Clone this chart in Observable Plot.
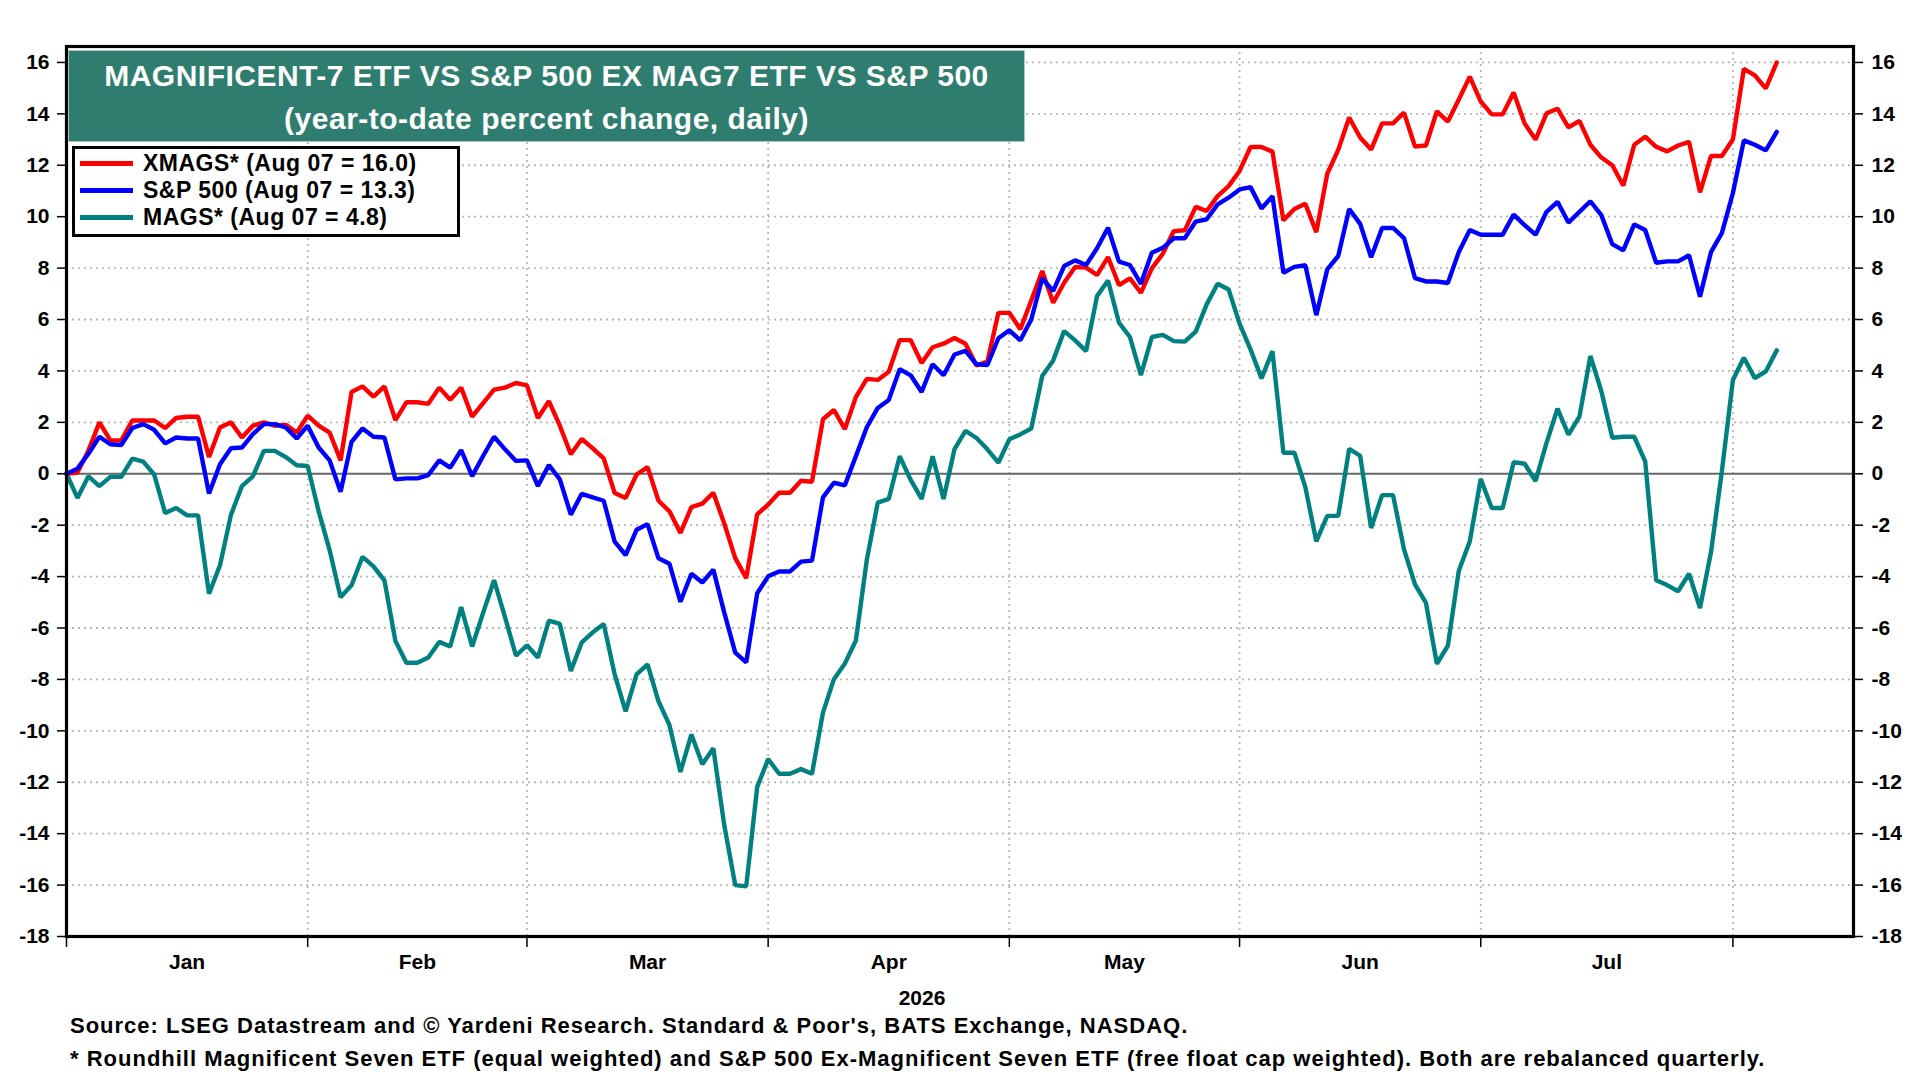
<!DOCTYPE html>
<html>
<head>
<meta charset="utf-8">
<script src="https://cdn.jsdelivr.net/npm/d3@7"></script>
<script src="https://cdn.jsdelivr.net/npm/@observablehq/plot@0.6"></script>
<style>
  html, body { margin: 0; padding: 0; background: #fff; }
  #wrap { position: relative; width: 1920px; height: 1080px; overflow: hidden; font-family: "Liberation Sans", Arial, sans-serif; font-weight: bold; color: #000; }
  #chart svg text { font-weight: bold; font-family: "Liberation Sans", Arial, sans-serif; }
  .title { position: absolute; left: 69px; top: 51px; width: 955px; height: 90px; background: #2e7d6f; color: #fff; font-size: 30px; letter-spacing: 0.5px; line-height: 43px; text-align: center; padding-top: 3px; box-sizing: border-box; outline: 1px solid #a9cbc3; white-space: nowrap; }
  .legend { position: absolute; left: 72px; top: 146px; width: 388px; height: 91px; background: #fff; border: 3px solid #000; box-sizing: border-box; padding-top: 1px; }
  .legend .row { height: 27px; display: flex; align-items: center; font-size: 23px; letter-spacing: 0.5px; white-space: nowrap; }
  .legend .sw { width: 53px; height: 5px; margin-left: 5px; margin-right: 10px; }
  .yearlab { position: absolute; left: 922px; top: 998px; transform: translate(-50%, -50%); font-size: 21px; }
  .src { position: absolute; left: 70px; font-size: 22px; letter-spacing: 1px; white-space: nowrap; transform: translateY(-50%); }
</style>
</head>
<body>
<div id="wrap">
  <div id="chart"></div>
  <div class="title">MAGNIFICENT-7 ETF VS S&amp;P 500 EX MAG7 ETF VS S&amp;P 500<br>(year-to-date percent change, daily)</div>
  <div class="legend" id="legend"></div>
  <div class="yearlab">2026</div>
  <div class="src" style="top:1026px">Source: LSEG Datastream and © Yardeni Research. Standard &amp; Poor's, BATS Exchange, NASDAQ.</div>
  <div class="src" style="top:1059px">* Roundhill Magnificent Seven ETF (equal weighted) and S&amp;P 500 Ex-Magnificent Seven ETF (free float cap weighted). Both are rebalanced quarterly.</div>
</div>
<script>
// Daily (weekday) year-to-date % change, Jan 1 2026 .. Aug 07 2026
const xmags = [
  0, 0.05, 0.9, 2.0, 1.3, 1.3, 2.07, 2.07, 2.07, 1.78, 2.17, 2.22, 2.22, 0.65, 1.8, 2.0, 1.41, 1.87, 2.0, 1.87,
  1.9, 1.6, 2.26, 1.87, 1.6, 0.52, 3.18, 3.4, 3.0, 3.4, 2.09, 2.78, 2.78, 2.72, 3.35, 2.88, 3.35, 2.22, 2.75, 3.27,
  3.35, 3.53, 3.44, 2.17, 2.82, 1.87, 0.76, 1.35, 0.99, 0.6, -0.75, -0.94, -0.03, 0.26, -1.05, -1.46, -2.3, -1.3, -1.16, -0.74,
  -1.94, -3.28, -4.06, -1.58, -1.2, -0.74, -0.74, -0.27, -0.31, 2.12, 2.48, 1.74, 2.98, 3.69, 3.65, 3.97, 5.2, 5.2, 4.31, 4.92,
  5.06, 5.28, 5.06, 4.21, 4.36, 6.26, 6.26, 5.62, 6.74, 7.89, 6.65, 7.43, 8.04, 8.02, 7.73, 8.43, 7.34, 7.6, 7.04, 7.99,
  8.56, 9.44, 9.47, 10.38, 10.22, 10.8, 11.19, 11.78, 12.71, 12.71, 12.53, 9.86, 10.3, 10.5, 9.4, 11.67, 12.6, 13.86, 13.08, 12.61,
  13.63, 13.63, 14.05, 12.73, 12.77, 14.1, 13.7, 14.56, 15.45, 14.48, 13.98, 13.98, 14.83, 13.63, 13.0, 14.02, 14.2, 13.47, 13.73, 12.8,
  12.3, 12.0, 11.21, 12.8, 13.11, 12.72, 12.54, 12.77, 12.91, 10.95, 12.36, 12.36, 13.01, 15.75, 15.5, 14.99, 16.0
];
const spx = [
  0, 0.2, 0.78, 1.44, 1.15, 1.12, 1.78, 1.93, 1.71, 1.18, 1.41, 1.37, 1.37, -0.77, 0.37, 0.99, 1.02, 1.54, 1.93, 1.93,
  1.8, 1.37, 1.87, 1.02, 0.52, -0.7, 1.24, 1.76, 1.44, 1.41, -0.22, -0.18, -0.18, -0.05, 0.52, 0.24, 0.92, -0.09, 0.69, 1.44,
  0.95, 0.5, 0.52, -0.48, 0.34, -0.22, -1.59, -0.78, -0.92, -1.05, -2.64, -3.16, -2.18, -1.96, -3.29, -3.5, -4.98, -3.89, -4.23, -3.73,
  -5.4, -6.96, -7.34, -4.65, -3.99, -3.8, -3.8, -3.42, -3.38, -0.92, -0.35, -0.45, 0.68, 1.81, 2.56, 2.87, 4.07, 3.83, 3.18, 4.26,
  3.83, 4.64, 4.78, 4.26, 4.23, 5.27, 5.58, 5.19, 6.0, 7.6, 7.11, 8.08, 8.3, 8.12, 8.77, 9.57, 8.25, 8.12, 7.39, 8.6,
  8.79, 9.16, 9.16, 9.81, 9.9, 10.48, 10.74, 11.06, 11.15, 10.32, 10.8, 7.82, 8.05, 8.11, 6.17, 7.95, 8.47, 10.3, 9.72, 8.42,
  9.56, 9.56, 9.17, 7.61, 7.48, 7.48, 7.42, 8.63, 9.48, 9.3, 9.3, 9.3, 10.08, 9.67, 9.3, 10.19, 10.58, 9.77, 10.19, 10.6,
  10.06, 8.93, 8.69, 9.7, 9.48, 8.21, 8.26, 8.26, 8.5, 6.89, 8.62, 9.37, 10.92, 12.97, 12.8, 12.58, 13.3
];
const mags = [
  0, -0.94, -0.1, -0.48, -0.12, -0.12, 0.59, 0.47, -0.03, -1.53, -1.33, -1.62, -1.62, -4.67, -3.56, -1.6, -0.48, -0.1, 0.89, 0.89,
  0.65, 0.33, 0.3, -1.46, -2.97, -4.8, -4.34, -3.23, -3.6, -4.15, -6.5, -7.35, -7.35, -7.15, -6.54, -6.72, -5.19, -6.72, -5.41, -4.14,
  -5.58, -7.08, -6.67, -7.15, -5.71, -5.84, -7.67, -6.56, -6.17, -5.84, -7.8, -9.24, -7.8, -7.41, -8.85, -9.78, -11.6, -10.14, -11.3, -10.68,
  -13.68, -16.0, -16.05, -12.19, -11.1, -11.67, -11.67, -11.49, -11.67, -9.29, -7.99, -7.38, -6.49, -3.35, -1.12, -0.98, 0.68, -0.24, -0.98, 0.68,
  -0.98, 0.96, 1.67, 1.39, 0.95, 0.43, 1.34, 1.53, 1.76, 3.8, 4.41, 5.55, 5.19, 4.77, 6.91, 7.52, 5.88, 5.32, 3.84, 5.32,
  5.4, 5.16, 5.14, 5.53, 6.59, 7.39, 7.17, 5.84, 4.84, 3.71, 4.77, 0.82, 0.82, -0.52, -2.63, -1.64, -1.64, 0.97, 0.7, -2.11,
  -0.83, -0.83, -2.94, -4.3, -5.02, -7.39, -6.69, -3.77, -2.63, -0.2, -1.33, -1.33, 0.45, 0.39, -0.28, 1.2, 2.53, 1.52, 2.22, 4.58,
  3.21, 1.4, 1.44, 1.44, 0.48, -4.14, -4.33, -4.57, -3.89, -5.22, -3.05, 0.12, 3.65, 4.51, 3.72, 3.98, 4.8
];

const seriesNames = ["XMAGS* (Aug 07 = 16.0)", "S&P 500 (Aug 07 = 13.3)", "MAGS* (Aug 07 = 4.8)"];
const seriesColors = ["#ff0000", "#0000ff", "#008080"];
const monthLabels = ["Jan", "Feb", "Mar", "Apr", "May", "Jun", "Jul"];
const yTicks = [-18, -16, -14, -12, -10, -8, -6, -4, -2, 0, 2, 4, 6, 8, 10, 12, 14, 16];
const yearLabel = "2026";

// weekday calendar (x axis is in trading-day steps, weekends skipped)
const days = d3.timeDay.range(new Date(2026, 0, 1), new Date(2027, 0, 1)).filter(d => d.getDay() !== 0 && d.getDay() !== 6);
const monthStarts = [];
days.forEach((d, i) => { if (i === 0 || d.getMonth() !== days[i - 1].getMonth()) monthStarts.push(i); });
const bounds = monthStarts.slice(0, 8); // Jan..Aug starts
const monthMids = monthLabels.map((m, i) => (bounds[i] + bounds[i + 1]) / 2);
const midLabel = new Map(monthMids.map((v, i) => [v, monthLabels[i]]));

const mk = (arr) => arr.map((v, i) => ({ i, v }));

const fmt = d => String(d);
const chart = Plot.plot({
  width: 1920,
  height: 1010,
  marginLeft: 66,
  marginRight: 67,
  marginTop: 46,
  marginBottom: 74,
  x: { domain: [0, 163], axis: null, label: null },
  y: { domain: [-18, 16.62], axis: null, label: null },
  style: { fontFamily: "Liberation Sans, Arial, sans-serif", fontSize: "21px", color: "#000", background: "#fff", overflow: "visible" },
  marks: [
    Plot.gridY(yTicks.filter(d => d !== 0 && d !== -18), { stroke: "#b8b8b8", strokeOpacity: 1, strokeWidth: 1.8, strokeDasharray: "2,4" }),
    Plot.gridX(bounds.slice(1), { stroke: "#b8b8b8", strokeOpacity: 1, strokeWidth: 1.8, strokeDasharray: "2,4" }),
    Plot.ruleY([0], { stroke: "#666", strokeWidth: 1.8 }),
    Plot.axisY(yTicks, { anchor: "left", label: null, tickSize: 9, tickPadding: 8, tickFormat: fmt, fontSize: 21, fontWeight: "bold", strokeWidth: 1.5 }),
    Plot.axisY(yTicks, { anchor: "right", label: null, tickSize: 9, tickPadding: 9, tickFormat: fmt, fontSize: 21, fontWeight: "bold", strokeWidth: 1.5 }),
    Plot.axisX(bounds, { anchor: "bottom", label: null, tickSize: 11, tickFormat: () => "", strokeWidth: 1.5 }),
    Plot.axisX(monthMids, { anchor: "bottom", label: null, tickSize: 0, tickPadding: 18, tickFormat: d => midLabel.get(d), fontSize: 21, fontWeight: "bold" }),
    Plot.line(mk(mags), { x: "i", y: "v", stroke: seriesColors[2], strokeWidth: 4.4, strokeLinejoin: "miter" }),
    Plot.line(mk(xmags), { x: "i", y: "v", stroke: seriesColors[0], strokeWidth: 4.4, strokeLinejoin: "miter" }),
    Plot.line(mk(spx), { x: "i", y: "v", stroke: seriesColors[1], strokeWidth: 4.4, strokeLinejoin: "miter" }),
    Plot.frame({ stroke: "#000", strokeWidth: 3.2 })
  ]
});
document.getElementById("chart").appendChild(chart);

const leg = document.getElementById("legend");
seriesNames.forEach((n, k) => {
  const row = document.createElement("div");
  row.className = "row";
  const sw = document.createElement("div");
  sw.className = "sw";
  sw.style.background = seriesColors[k];
  const t = document.createElement("span");
  t.textContent = n;
  row.appendChild(sw);
  row.appendChild(t);
  leg.appendChild(row);
});
document.querySelector(".yearlab").textContent = yearLabel;
</script>
</body>
</html>
